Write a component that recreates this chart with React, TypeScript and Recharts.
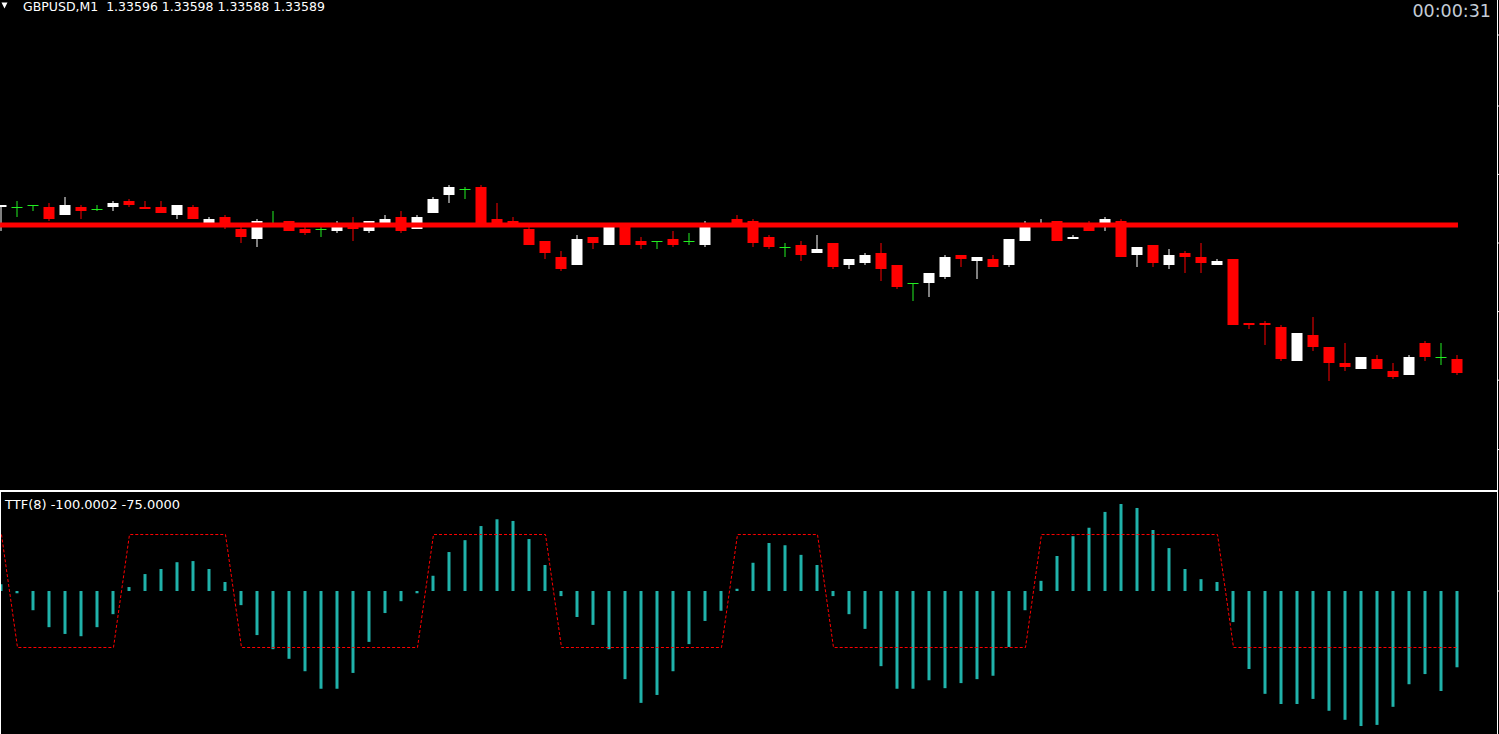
import React from 'react';
import { ComposedChart, Bar, Line, XAxis, YAxis, ReferenceLine } from 'recharts';

const SYMBOL = 'GBPUSD';
const TIMEFRAME = 'M1';
const TIMER = '00:00:31';
const TTF_LABEL = 'TTF(8) -100.0002 -75.0000';

const CANDLE_OPEN = [
  1.33672, 1.33672, 1.33673, 1.33672, 1.33668, 1.33672, 1.33671, 1.33672, 1.33675, 1.33672,
  1.33672, 1.33668, 1.33672, 1.33664, 1.33667, 1.33661, 1.33656, 1.33664, 1.33665, 1.33661,
  1.33661, 1.33660, 1.33663, 1.33660, 1.33664, 1.33667, 1.33661, 1.33669, 1.33678, 1.33681,
  1.33682, 1.33666, 1.33665, 1.33661, 1.33655, 1.33647, 1.33643, 1.33657, 1.33653, 1.33663,
  1.33655, 1.33655, 1.33656, 1.33655, 1.33653, 1.33664, 1.33666, 1.33665, 1.33657, 1.33652,
  1.33653, 1.33649, 1.33654, 1.33643, 1.33644, 1.33649, 1.33643, 1.33634, 1.33634, 1.33637,
  1.33648, 1.33645, 1.33646, 1.33643, 1.33655, 1.33662, 1.33665, 1.33656, 1.33664, 1.33662,
  1.33665, 1.33648, 1.33653, 1.33643, 1.33649, 1.33647, 1.33643, 1.33646, 1.33614, 1.33614,
  1.33612, 1.33595, 1.33608, 1.33602, 1.33594, 1.33591, 1.33596, 1.33590, 1.33588, 1.33604,
  1.33597, 1.33596,
];
const CANDLE_HIGH = [
  1.33673, 1.33675, 1.33673, 1.33674, 1.33677, 1.33673, 1.33673, 1.33675, 1.33676, 1.33675,
  1.33675, 1.33673, 1.33673, 1.33667, 1.33668, 1.33663, 1.33666, 1.33670, 1.33665, 1.33662,
  1.33663, 1.33665, 1.33667, 1.33665, 1.33668, 1.33670, 1.33668, 1.33677, 1.33683, 1.33682,
  1.33683, 1.33674, 1.33667, 1.33662, 1.33655, 1.33650, 1.33658, 1.33657, 1.33664, 1.33664,
  1.33657, 1.33655, 1.33660, 1.33659, 1.33665, 1.33664, 1.33668, 1.33666, 1.33658, 1.33654,
  1.33655, 1.33658, 1.33654, 1.33646, 1.33649, 1.33654, 1.33643, 1.33634, 1.33639, 1.33648,
  1.33648, 1.33647, 1.33648, 1.33656, 1.33665, 1.33666, 1.33665, 1.33658, 1.33665, 1.33667,
  1.33666, 1.33652, 1.33653, 1.33651, 1.33650, 1.33654, 1.33646, 1.33646, 1.33614, 1.33615,
  1.33613, 1.33609, 1.33617, 1.33602, 1.33604, 1.33597, 1.33598, 1.33594, 1.33598, 1.33605,
  1.33604, 1.33598,
];
const CANDLE_LOW = [
  1.33660, 1.33667, 1.33670, 1.33665, 1.33668, 1.33666, 1.33670, 1.33670, 1.33672, 1.33671,
  1.33669, 1.33666, 1.33666, 1.33663, 1.33661, 1.33654, 1.33652, 1.33663, 1.33660, 1.33658,
  1.33657, 1.33659, 1.33655, 1.33659, 1.33662, 1.33659, 1.33661, 1.33669, 1.33674, 1.33676,
  1.33664, 1.33663, 1.33662, 1.33653, 1.33646, 1.33640, 1.33643, 1.33651, 1.33653, 1.33653,
  1.33651, 1.33651, 1.33652, 1.33653, 1.33652, 1.33663, 1.33663, 1.33652, 1.33651, 1.33647,
  1.33645, 1.33649, 1.33641, 1.33641, 1.33643, 1.33635, 1.33631, 1.33625, 1.33627, 1.33636,
  1.33642, 1.33636, 1.33642, 1.33642, 1.33655, 1.33662, 1.33655, 1.33656, 1.33660, 1.33660,
  1.33647, 1.33642, 1.33642, 1.33641, 1.33639, 1.33639, 1.33643, 1.33613, 1.33611, 1.33603,
  1.33595, 1.33595, 1.33600, 1.33585, 1.33590, 1.33591, 1.33591, 1.33586, 1.33588, 1.33595,
  1.33593, 1.33588,
];
const CANDLE_CLOSE = [
  1.33673, 1.33672, 1.33673, 1.33666, 1.33673, 1.33670, 1.33671, 1.33674, 1.33673, 1.33671,
  1.33669, 1.33673, 1.33666, 1.33666, 1.33662, 1.33657, 1.33665, 1.33664, 1.33660, 1.33659,
  1.33661, 1.33663, 1.33661, 1.33665, 1.33666, 1.33660, 1.33667, 1.33676, 1.33682, 1.33681,
  1.33664, 1.33664, 1.33662, 1.33653, 1.33649, 1.33641, 1.33656, 1.33654, 1.33662, 1.33653,
  1.33653, 1.33655, 1.33653, 1.33655, 1.33662, 1.33663, 1.33664, 1.33654, 1.33652, 1.33652,
  1.33648, 1.33651, 1.33642, 1.33646, 1.33648, 1.33641, 1.33632, 1.33634, 1.33639, 1.33647,
  1.33646, 1.33647, 1.33642, 1.33656, 1.33663, 1.33664, 1.33655, 1.33657, 1.33660, 1.33666,
  1.33647, 1.33652, 1.33644, 1.33648, 1.33647, 1.33644, 1.33645, 1.33613, 1.33613, 1.33613,
  1.33596, 1.33609, 1.33602, 1.33594, 1.33592, 1.33597, 1.33591, 1.33587, 1.33597, 1.33597,
  1.33597, 1.33589,
];

const LEVEL_PRICE = 1.33663;
const PRICE_TICKS = [1.335507, 1.335854, 1.336197, 1.33654, 1.336883, 1.337225, 1.33758];
const PRICE_DOMAIN: [number, number] = [1.335305, 1.337755];

const TTF_HIST = [
  12, -4, -34, -64, -76, -80, -64, -41, 7, 30,
  39, 51, 53, 39, 16, -25, -78, -103, -120, -142,
  -173, -173, -145, -90, -39, -18, -4, 27, 69, 90,
  115, 127, 124, 92, 46, -9, -46, -60, -103, -156,
  -198, -184, -142, -94, -53, -35, 4, 50, 85, 81,
  64, 46, -9, -41, -67, -133, -173, -173, -158, -172,
  -163, -156, -150, -99, -34, 18, 62, 97, 112, 140,
  154, 147, 108, 76, 39, 21, 16, -55, -138, -182,
  -200, -200, -191, -212, -228, -239, -237, -205, -165, -147,
  -177, -135,
];
const TTF_SIGNAL = [
  100, -100, -100, -100, -100, -100, -100, -100, 100, 100,
  100, 100, 100, 100, 100, -100, -100, -100, -100, -100,
  -100, -100, -100, -100, -100, -100, -100, 100, 100, 100,
  100, 100, 100, 100, 100, -100, -100, -100, -100, -100,
  -100, -100, -100, -100, -100, -100, 100, 100, 100, 100,
  100, 100, -100, -100, -100, -100, -100, -100, -100, -100,
  -100, -100, -100, -100, -100, 100, 100, 100, 100, 100,
  100, 100, 100, 100, 100, 100, 100, -100, -100, -100,
  -100, -100, -100, -100, -100, -100, -100, -100, -100, -100,
  -100, -100,
];
const TTF_DOMAIN: [number, number] = [-253.1, 178.8];
const TTF_TICKS = [0];

const X_DOMAIN: [number, number] = [-0.09375, 93.46875];

const BULL = '#FFFFFF';
const BEAR = '#FF0000';
const DOJI = '#22EE22';
const HIST = '#20B2AA';

const candleData = CANDLE_OPEN.map((o, i) => ({
  i,
  open: o,
  high: CANDLE_HIGH[i],
  low: CANDLE_LOW[i],
  close: CANDLE_CLOSE[i],
}));

const ttfData = TTF_HIST.map((h, i) => ({ i, hist: h, signal: TTF_SIGNAL[i] }));

function CandleShape(props: any) {
  const { x, y, width, height, payload } = props;
  if (!payload || !isFinite(height) || height <= 0) return null;
  const { open, high, low, close } = payload;
  const k = height / (high - PRICE_DOMAIN[0]);
  const py = (v: number) => y + (high - v) * k;
  const cx = x + width / 2;
  const color = close > open ? BULL : close < open ? BEAR : DOJI;
  const top = py(Math.max(open, close));
  const bot = py(Math.min(open, close));
  const isDoji = open === close;
  return (
    <g>
      <line x1={cx} x2={cx} y1={py(high)} y2={py(low)} stroke={color} strokeWidth={1} />
      <rect x={x} y={top} width={width} height={isDoji ? 1 : Math.max(1, bot - top)} fill={color} />
    </g>
  );
}

const NoLabel = () => <g />;

const last = CANDLE_OPEN.length - 1;
const headerText = `${SYMBOL},${TIMEFRAME}  ${CANDLE_OPEN[last].toFixed(5)} ${CANDLE_HIGH[last].toFixed(5)} ${CANDLE_LOW[last].toFixed(5)} ${CANDLE_CLOSE[last].toFixed(5)}`;

export default function App() {
  return (
    <div
      style={{
        position: 'absolute',
        left: 0,
        top: 0,
        width: 1499,
        height: 734,
        background: '#000',
        overflow: 'hidden',
      }}
    >
      <div style={{ position: 'absolute', left: 0, top: 0 }}>
        <ComposedChart width={1499} height={490} data={candleData} margin={{ top: 0, right: 0, bottom: 0, left: 0 }}>
          <XAxis dataKey="i" type="number" domain={X_DOMAIN} hide allowDataOverflow />
          <YAxis
            orientation="right"
            width={2}
            domain={PRICE_DOMAIN}
            ticks={PRICE_TICKS}
            allowDataOverflow
            axisLine={false}
            tickLine={{ stroke: '#FFFFFF' }}
            tickSize={2}
            tick={NoLabel}
          />
          <Bar
            dataKey={(d: any) => [PRICE_DOMAIN[0], d.high]}
            barSize={11}
            shape={(p: any) => <CandleShape {...p} />}
            isAnimationActive={false}
          />
          <ReferenceLine
            segment={[
              { x: -0.09, y: LEVEL_PRICE },
              { x: 91.03, y: LEVEL_PRICE },
            ]}
            stroke="#FF0000"
            strokeWidth={5}
          />
        </ComposedChart>
      </div>
      <div style={{ position: 'absolute', left: 0, top: 490 }}>
        <ComposedChart width={1499} height={244} data={ttfData} margin={{ top: 0, right: 0, bottom: 0, left: 0 }}>
          <XAxis dataKey="i" type="number" domain={X_DOMAIN} hide allowDataOverflow />
          <YAxis
            orientation="right"
            width={2}
            domain={TTF_DOMAIN}
            ticks={TTF_TICKS}
            allowDataOverflow
            axisLine={false}
            tickLine={{ stroke: '#FFFFFF' }}
            tickSize={2}
            tick={NoLabel}
          />
          <Bar dataKey="hist" barSize={3} fill={HIST} isAnimationActive={false} />
          <Line
            dataKey="signal"
            type="linear"
            stroke="#FF0000"
            strokeWidth={1}
            strokeDasharray="3 2"
            dot={false}
            activeDot={false}
            isAnimationActive={false}
          />
        </ComposedChart>
      </div>
      <svg
        width={1499}
        height={734}
        style={{ position: 'absolute', left: 0, top: 0, pointerEvents: 'none' }}
        fontFamily='"DejaVu Sans", sans-serif'
      >
        <rect x={0} y={490} width={1498} height={2} fill="#FFFFFF" />
        <rect x={0} y={490} width={1} height={244} fill="#FFFFFF" />
        <rect x={1497} y={0} width={1} height={734} fill="#FFFFFF" />
        <polygon points="1.5,2.5 7.5,2.5 4.5,8.5" fill="#FFFFFF" />
        <text x={23} y={11} fill="#FFFFFF" fontSize={12.5} style={{ whiteSpace: 'pre' }}>
          {headerText}
        </text>
        <text x={1491} y={17} fill="#C4CCD6" fontSize={17.5} textAnchor="end">
          {TIMER}
        </text>
        <text x={5} y={509} fill="#FFFFFF" fontSize={13} style={{ whiteSpace: 'pre' }}>
          {TTF_LABEL}
        </text>
      </svg>
    </div>
  );
}
